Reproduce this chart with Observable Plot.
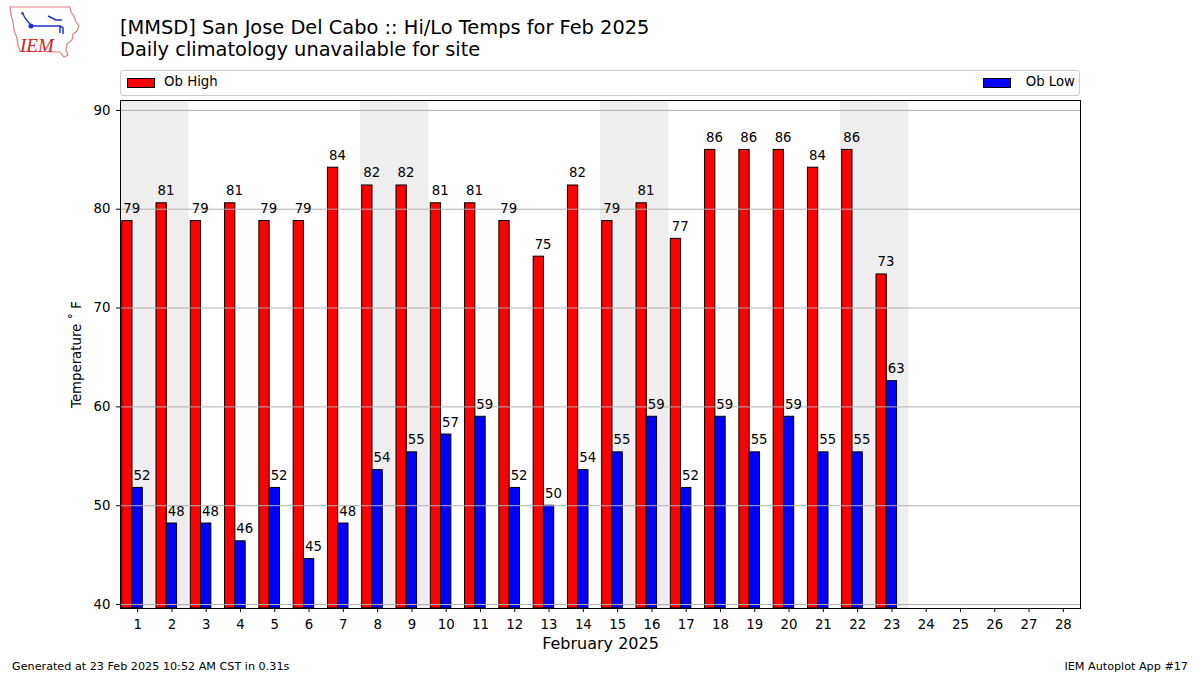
<!DOCTYPE html>
<html>
<head>
<meta charset="utf-8">
<script src="https://cdn.jsdelivr.net/npm/d3@7"></script>
<script src="https://cdn.jsdelivr.net/npm/@observablehq/plot@0.6"></script>
<style>
  html, body { margin: 0; padding: 0; background: #fff; }
  body { width: 1200px; height: 675px; position: relative; overflow: hidden; font-family: "DejaVu Sans", sans-serif; color: #000; }
  #chart { position: absolute; left: 0; top: 0; }
  .abs { position: absolute; white-space: nowrap; }
  #title { left: 120px; top: 17px; font-size: 19.4px; line-height: 22px; }
  #legend { left: 120px; top: 70px; width: 958px; height: 24px; border: 1px solid #cccccc; border-radius: 3px; background: #fff; }
  .sw { position: absolute; top: 7px; width: 26px; height: 8px; border: 1px solid #000; }
  .lt { position: absolute; top: 3px; font-size: 13.3px; }
  .foot { top: 660px; font-size: 11.2px; }
</style>
</head>
<body>
<div id="chart"></div>
<svg class="abs" style="left:0;top:0" width="90" height="62" viewBox="0 0 90 62">
  <path d="M10,7 L70,7 L71,12 L74,16 L76,22 L79,26 L77,31 L73,34 L72,40 L67,44 L66,50 L68,55 L64,57 L60,52 L20,51 L18,46 L17,38 L14,30 L13,22 L11,15 Z" fill="none" stroke="#e08080" stroke-width="1.2"/>
  <path d="M22,12 L25,18 M21,14 L24,13 M25,18 L30,24" stroke="#2030d0" stroke-width="1.3" fill="none"/>
  <circle cx="31" cy="26" r="2.5" fill="#2030d0"/>
  <path d="M31,26 L60,26 L60,33 M48,16 L56,20 L62,20 M60,26 L63,28 L63,34" stroke="#2030d0" stroke-width="1.5" fill="none"/>
  <text x="20" y="52" font-family="Liberation Serif, serif" font-style="italic" font-size="19" fill="#d02020">IEM</text>
</svg>
<div id="title" class="abs">[MMSD] San Jose Del Cabo :: Hi/Lo Temps for Feb 2025<br>Daily climatology unavailable for site</div>
<div id="legend" class="abs">
  <div class="sw" style="left:6px;background:#ff0000"></div>
  <div class="lt" style="left:43px">Ob High</div>
  <div class="sw" style="left:862px;background:#0000ff"></div>
  <div class="lt" style="right:4px">Ob Low</div>
</div>
<div class="abs foot" style="left:12px">Generated at 23 Feb 2025 10:52 AM CST in 0.31s</div>
<div class="abs foot" style="right:12px">IEM Autoplot App #17</div>
<script>
// ---- data ----
const days = [1,2,3,4,5,6,7,8,9,10,11,12,13,14,15,16,17,18,19,20,21,22,23];
const obHigh = [78.8,80.6,78.8,80.6,78.8,78.8,84.2,82.4,82.4,80.6,80.6,78.8,75.2,82.4,78.8,80.6,77.0,86.0,86.0,86.0,84.2,86.0,73.4];
const obLow  = [51.8,48.2,48.2,46.4,51.8,44.6,48.2,53.6,55.4,57.2,59.0,51.8,50.0,53.6,55.4,59.0,51.8,59.0,55.4,59.0,55.4,55.4,62.6];
const weekendDays = [1,2,8,9,15,16,22,23];
const xTicks = [1,2,3,4,5,6,7,8,9,10,11,12,13,14,15,16,17,18,19,20,21,22,23,24,25,26,27,28];
const yTicks = [40,50,60,70,80,90];
const xLabel = "February 2025";
const yLabel = "Temperature \u02DA F";

const rows = days.map((d, i) => ({day: d, high: obHigh[i], low: obLow[i]}));
const yMin = 39.6, yMax = 91.0;

const chart = Plot.plot({
  width: 1200,
  height: 675,
  marginLeft: 120,
  marginRight: 120,
  marginTop: 100,
  marginBottom: 67,
  style: {fontFamily: "DejaVu Sans, sans-serif", fontSize: "13.3px", background: "transparent", color: "#000"},
  x: {type: "linear", domain: [0.5, 28.5]},
  y: {domain: [yMin, yMax]},
  marks: [
    Plot.rect(weekendDays, {x1: d => d - 0.5, x2: d => d + 0.5, fill: "#eeeeee"}),
    Plot.rect(rows, {x1: d => d.day - 0.45, x2: d => d.day - 0.15, y1: yMin, y2: "high", fill: "#ff0000", stroke: "#000", strokeWidth: 1}),
    Plot.rect(rows, {x1: d => d.day - 0.15, x2: d => d.day + 0.15, y1: yMin, y2: "low", fill: "#0000ff", stroke: "#000", strokeWidth: 1}),
    Plot.gridY(yTicks, {stroke: "#b0b0b0", strokeOpacity: 1, strokeWidth: 1}),
    Plot.text(rows, {x: d => d.day - 0.45, y: "high", text: d => String(Math.round(d.high)), textAnchor: "start", lineAnchor: "bottom", dx: 1, dy: -8, fontSize: 13.3}),
    Plot.text(rows, {x: d => d.day - 0.15, y: "low", text: d => String(Math.round(d.low)), textAnchor: "start", lineAnchor: "bottom", dx: 1, dy: -8, fontSize: 13.3}),
    Plot.frame({stroke: "#000", strokeWidth: 1}),
    Plot.axisX(xTicks, {tickSize: 4, tickPadding: 7, label: null, fontSize: 13.3}),
    Plot.axisY(yTicks, {tickSize: 4, tickPadding: 6, label: null, fontSize: 13.3}),
    Plot.text([xLabel], {frameAnchor: "bottom", dy: 40, fontSize: 16}),
    Plot.text([yLabel], {frameAnchor: "left", textAnchor: "middle", rotate: -90, dx: -44, fontSize: 13.3})
  ]
});
document.getElementById("chart").appendChild(chart);
</script>
</body>
</html>
